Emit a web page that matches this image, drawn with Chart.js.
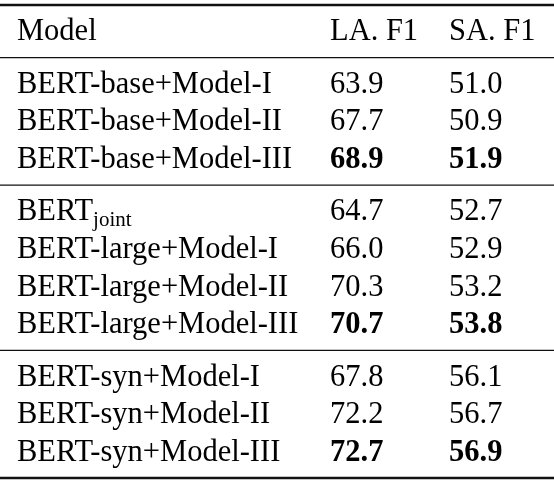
<!DOCTYPE html>
<html><head><meta charset="utf-8">
<script src="https://cdn.jsdelivr.net/npm/chart.js@4"></script>
<style>html,body{margin:0;padding:0;background:#fff;}canvas{display:block;}</style>
</head><body>
<canvas id="c" width="554" height="482"></canvas>
<script>
// ---- data ----
const columnHeaders = ['Model', 'LA. F1', 'SA. F1'];
const models = [
  'BERT-base+Model-I', 'BERT-base+Model-II', 'BERT-base+Model-III',
  'BERT_{joint}', 'BERT-large+Model-I', 'BERT-large+Model-II', 'BERT-large+Model-III',
  'BERT-syn+Model-I', 'BERT-syn+Model-II', 'BERT-syn+Model-III'
];
const groupSizes = [3, 4, 3];
const laF1 = [63.9, 67.7, 68.9, 64.7, 66.0, 70.3, 70.7, 67.8, 72.2, 72.7];
const saF1 = [51.0, 50.9, 51.9, 52.7, 52.9, 53.2, 53.8, 56.1, 56.7, 56.9];

// ---- layout (row units on the y scale, column anchors on the x scale) ----
const colLeft = [17, 330, 449];
const rowY = [];
const rules = [{ y: -0.7, w: 2.4 }, { y: 0.7, w: 1.3 }];
const groupOf = [];
let yy = 1.4;
groupSizes.forEach((n, gi) => {
  for (let i = 0; i < n; i++) { rowY.push(yy); groupOf.push(gi); yy += 1; }
  yy -= 1;
  rules.push({ y: yy + 0.7, w: gi === groupSizes.length - 1 ? 2.4 : 1.3 });
  yy += 1.4;
});
const yMin = -0.7, yMax = rules[rules.length - 1].y;

function isBest(arr, i) {
  const g = groupOf[i];
  const vals = arr.filter((_, k) => groupOf[k] === g);
  return arr[i] === Math.max(...vals);
}

const FONT = '"Liberation Serif", "Times New Roman", serif';
const SIZE = 30.5;

const tablePlugin = {
  id: 'tableText',
  afterDatasetsDraw(chart) {
    const ctx = chart.ctx;
    const xs = chart.scales.x, ys = chart.scales.y;
    ctx.save();
    // rules
    ctx.strokeStyle = '#111';
    rules.forEach(r => {
      const py = ys.getPixelForValue(r.y);
      ctx.lineWidth = r.w;
      ctx.beginPath();
      ctx.moveTo(xs.left, py);
      ctx.lineTo(xs.right, py);
      ctx.stroke();
    });
    ctx.fillStyle = '#000';
    ctx.textBaseline = 'alphabetic';
    ctx.textAlign = 'left';
    const base = 9;
    const drawText = (txt, x, y, bold) => {
      const m = txt.match(/^(.*)_\{(.*)\}$/);
      ctx.font = (bold ? 'bold ' : '') + SIZE + 'px ' + FONT;
      if (m) {
        ctx.fillText(m[1], x, y);
        const w = ctx.measureText(m[1]).width;
        ctx.font = (bold ? 'bold ' : '') + Math.round(SIZE * 0.7) + 'px ' + FONT;
        ctx.fillText(m[2], x + w, y + 6);
      } else {
        ctx.fillText(txt, x, y);
      }
    };
    // header
    columnHeaders.forEach((h, ci) => {
      drawText(h, xs.getPixelForValue(colLeft[ci]), ys.getPixelForValue(0) + base, false);
    });
    // body
    chart.data.datasets.forEach((ds, di) => {
      ds.data.forEach((pt, i) => {
        const px = xs.getPixelForValue(pt.x);
        const py = ys.getPixelForValue(pt.y) + base;
        let txt, bold = false;
        if (di === 0) txt = models[i];
        else {
          const arr = di === 1 ? laF1 : saF1;
          txt = arr[i].toFixed(1);
          bold = isBest(arr, i);
        }
        drawText(txt, px, py, bold);
      });
    });
    ctx.restore();
  }
};

new Chart(document.getElementById('c'), {
  type: 'scatter',
  data: {
    datasets: [
      { label: columnHeaders[0], data: models.map((m, i) => ({ x: colLeft[0], y: rowY[i] })) },
      { label: columnHeaders[1], data: laF1.map((v, i) => ({ x: colLeft[1], y: rowY[i] })) },
      { label: columnHeaders[2], data: saF1.map((v, i) => ({ x: colLeft[2], y: rowY[i] })) }
    ].map(d => Object.assign(d, { pointRadius: 0, pointHoverRadius: 0 }))
  },
  options: {
    responsive: false,
    animation: false,
    layout: { padding: { top: 5, bottom: 4, left: 0, right: 0 } },
    plugins: { legend: { display: false }, tooltip: { enabled: false } },
    scales: {
      x: { type: 'linear', min: 0, max: 554, display: false },
      y: { type: 'linear', min: yMin, max: yMax, reverse: true, display: false }
    }
  },
  plugins: [tablePlugin]
});
</script>
</body></html>
